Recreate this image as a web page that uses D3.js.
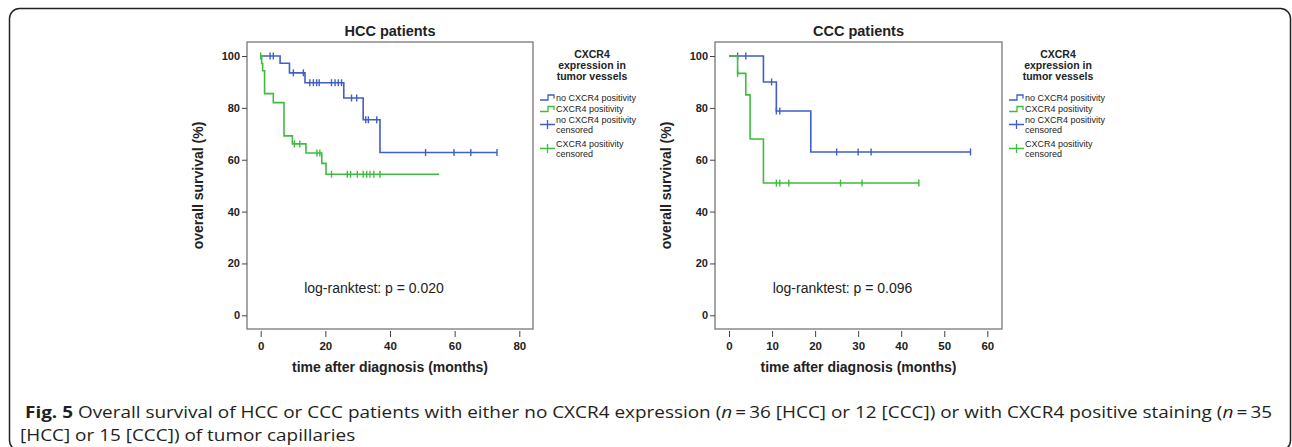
<!DOCTYPE html>
<html>
<head>
<meta charset="utf-8">
<script src="https://cdn.jsdelivr.net/npm/d3@7"></script>
<style>
  body { margin: 0; background: #fff; }
  svg text { font-family: "Liberation Sans", Arial, sans-serif; fill: #222; }
  .caption text { font-family: "Open Sans", "Noto Sans", sans-serif; fill: #231f20; }
</style>
</head>
<body>
<div id="chart-area"></div>
<script>
// Kaplan-Meier data
// steps = [time (months), survival (%) after the drop]
var hccNoSteps   = [[6, 97.2], [8.9, 93.5], [13.7, 89.7], [25.7, 83.8], [31.7, 75.4], [36.9, 62.8]];
var hccNoCens    = [2.9, 3.9, 10.1, 13.2, 15.2, 16.3, 17.3, 18.1, 21.9, 23, 24, 25, 28.1, 29.7, 32.5, 33.3, 35.9, 51, 59.8, 65, 73.1];
var hccNoEnd     = 73.1;
var hccPosSteps  = [[0.3, 97.1], [0.6, 94.3], [1.2, 85.5], [3.9, 82.0], [7.2, 69.2], [9.8, 66.1], [14, 62.6], [18.9, 58.6], [20.2, 54.4]];
var hccPosCens   = [0, 10.4, 12.1, 17.4, 18.3, 21.9, 26.8, 27.8, 29.9, 31.7, 32.8, 33.8, 35, 36.9];
var hccPosEnd    = 55.2;

var cccNoSteps   = [[8, 90], [11, 78.8], [19, 63]];
var cccNoCens    = [2, 3.9, 9.9, 11, 11.8, 25, 30, 33, 56.1];
var cccNoEnd     = 56.1;
var cccPosSteps  = [[2, 93.3], [3.9, 85], [4.9, 68], [8, 51]];
var cccPosCens   = [2, 11, 11.8, 13.9, 25.9, 30.9, 44.1];
var cccPosEnd    = 44.1;

var yTicks = [0, 20, 40, 60, 80, 100];
var hccXTicks = [0, 20, 40, 60, 80];
var cccXTicks = [0, 10, 20, 30, 40, 50, 60];

var legendTitle = ["CXCR4", "expression in", "tumor vessels"];
var legendItems = ["no CXCR4 positivity", "CXCR4 positivity", "no CXCR4 positivity\ncensored", "CXCR4 positivity\ncensored"];

var blue = "#3f5fc6", green = "#3dbd3d";

var svg = d3.select("#chart-area").append("svg")
    .attr("width", 1292)
    .attr("height", 447);

// outer figure border
svg.append("rect")
    .attr("x", 9.5).attr("y", 8.5)
    .attr("width", 1281).attr("height", 442)
    .attr("rx", 10)
    .attr("fill", "none")
    .attr("stroke", "#222")
    .attr("stroke-width", 1.5);

var y = d3.scaleLinear().domain([0, 100]).range([315.3, 56]);

function survivalAt(steps, t) {
  var s = 100;
  steps.forEach(function(d) { if (d[0] <= t) s = d[1]; });
  return s;
}

function drawPanel(opt) {
  var g = svg.append("g");
  var x = d3.scaleLinear().domain(opt.xDomain).range(opt.xRange);

  // frame
  g.append("rect")
    .attr("x", opt.left).attr("y", 42)
    .attr("width", opt.right - opt.left).attr("height", 329 - 42)
    .attr("fill", "none")
    .attr("stroke", "#808080")
    .attr("stroke-width", 1.4);

  g.append("text")
    .attr("x", (opt.left + opt.right) / 2)
    .attr("y", 36)
    .attr("text-anchor", "middle")
    .style("font-weight", "bold")
    .style("font-size", "14.5px")
    .text(opt.title);

  // axes
  var yAxis = d3.axisLeft(y).tickValues(yTicks).tickSize(5).tickPadding(2);
  var yg = g.append("g")
    .attr("transform", "translate(" + opt.left + ",0)")
    .call(yAxis);
  yg.select(".domain").remove();
  yg.selectAll("line").attr("stroke", "#444");
  yg.selectAll("text").style("font-size", "11px").style("font-weight", "bold")
    .style("font-family", "Liberation Sans, Arial, sans-serif").attr("fill", "#222");

  var xAxis = d3.axisBottom(x).tickValues(opt.xTicks).tickSize(6).tickPadding(5);
  var xg = g.append("g")
    .attr("transform", "translate(0,331)")
    .call(xAxis);
  xg.select(".domain").remove();
  xg.selectAll("line").attr("stroke", "#444");
  xg.selectAll("text").style("font-size", "11.5px").style("font-weight", "bold")
    .style("font-family", "Liberation Sans, Arial, sans-serif").attr("fill", "#222");

  g.append("text")
    .attr("x", (opt.left + opt.right) / 2)
    .attr("y", 372)
    .attr("text-anchor", "middle")
    .style("font-weight", "bold")
    .style("font-size", "14px")
    .text("time after diagnosis (months)");

  g.append("text")
    .attr("transform", "translate(" + (opt.left - 44) + ",185.5) rotate(-90)")
    .attr("text-anchor", "middle")
    .style("font-weight", "bold")
    .style("font-size", "14px")
    .text("overall survival (%)");

  g.append("text")
    .attr("x", (opt.left + opt.right) / 2 - 16)
    .attr("y", 293)
    .attr("text-anchor", "middle")
    .style("font-size", "14px")
    .text(opt.pText);

  var line = d3.line()
    .x(function(d) { return x(d[0]); })
    .y(function(d) { return y(d[1]); })
    .curve(d3.curveStepAfter);

  opt.series.forEach(function(s) {
    var last = s.steps[s.steps.length - 1][1];
    var pts = [[0, 100]].concat(s.steps).concat([[s.end, last]]);
    g.append("path")
      .datum(pts)
      .attr("d", line)
      .attr("fill", "none")
      .attr("stroke", s.color)
      .attr("stroke-width", 1.6);

    g.selectAll(null)
      .data(s.cens)
      .enter()
      .append("line")
      .attr("x1", function(d) { return x(d); })
      .attr("x2", function(d) { return x(d); })
      .attr("y1", function(d) { return y(survivalAt(s.steps, d)) - 3.5; })
      .attr("y2", function(d) { return y(survivalAt(s.steps, d)) + 3.5; })
      .attr("stroke", s.color)
      .attr("stroke-width", 1.4);
  });

  // legend
  var lg = g.append("g").attr("transform", "translate(" + opt.right + ",0)");
  var cx = opt.legendCenter - opt.right;
  legendTitle.forEach(function(t, i) {
    lg.append("text")
      .attr("x", cx)
      .attr("y", 58 + i * 11)
      .attr("text-anchor", "middle")
      .style("font-weight", "bold")
      .style("font-size", "10.5px")
      .text(t);
  });

  var itemY = [97.5, 109, 119.5, 143.5];
  var itemColors = [blue, green, blue, green];
  legendItems.forEach(function(t, i) {
    var yy = itemY[i];
    var col = itemColors[i];
    if (i < 2) {
      lg.append("path")
        .attr("d", "M7," + (yy + 2.5) + "H15V" + (yy - 2.5) + "H21V" + (yy + 1))
        .attr("fill", "none").attr("stroke", col).attr("stroke-width", 1.3);
    } else {
      var cyy = yy + 5;
      lg.append("path")
        .attr("d", "M7," + cyy + "H22M14.5," + (cyy - 4.5) + "V" + (cyy + 4.5))
        .attr("fill", "none").attr("stroke", col).attr("stroke-width", 1.3);
    }
    t.split("\n").forEach(function(part, j) {
      lg.append("text")
        .attr("x", 23)
        .attr("y", yy + 3 + j * 10)
        .style("font-size", "9px")
        .attr("fill", "#333")
        .text(part);
    });
  });
}

drawPanel({
  left: 247, right: 533,
  xDomain: [0, 80], xRange: [260.7, 519.3], xTicks: hccXTicks,
  title: "HCC patients",
  pText: "log-ranktest: p = 0.020",
  legendCenter: 592,
  series: [
    {steps: hccNoSteps, cens: hccNoCens, end: hccNoEnd, color: blue},
    {steps: hccPosSteps, cens: hccPosCens, end: hccPosEnd, color: green}
  ]
});

drawPanel({
  left: 715, right: 1002,
  xDomain: [0, 60], xRange: [729, 987.3], xTicks: cccXTicks,
  title: "CCC patients",
  pText: "log-ranktest: p = 0.096",
  legendCenter: 1058,
  series: [
    {steps: cccNoSteps, cens: cccNoCens, end: cccNoEnd, color: blue},
    {steps: cccPosSteps, cens: cccPosCens, end: cccPosEnd, color: green}
  ]
});

// caption (the journal font is narrower than Open Sans, so squeeze it horizontally)
var cap = svg.append("g").attr("class", "caption");
var g1 = cap.append("g");
var l1 = g1.append("text").attr("x", 0).attr("y", 0).style("font-size", "15.5px");
l1.append("tspan").style("font-weight", "bold").text("Fig. 5");
l1.append("tspan").text(" Overall survival of HCC or CCC patients with either no CXCR4 expression (");
l1.append("tspan").style("font-style", "italic").text("n");
l1.append("tspan").text("\u2009=\u200936 [HCC] or 12 [CCC]) or with CXCR4 positive staining (");
l1.append("tspan").style("font-style", "italic").text("n");
l1.append("tspan").text("\u2009=\u200935");
var g2 = cap.append("g");
var l2 = g2.append("text").attr("x", 0).attr("y", 0).style("font-size", "15.5px")
  .text("[HCC] or 15 [CCC]) of tumor capillaries");

var sx = 1248 / l1.node().getComputedTextLength();
g1.attr("transform", "translate(25,418) scale(" + sx + ",1)");
g2.attr("transform", "translate(20,441) scale(" + sx + ",1)");
</script>
</body>
</html>
